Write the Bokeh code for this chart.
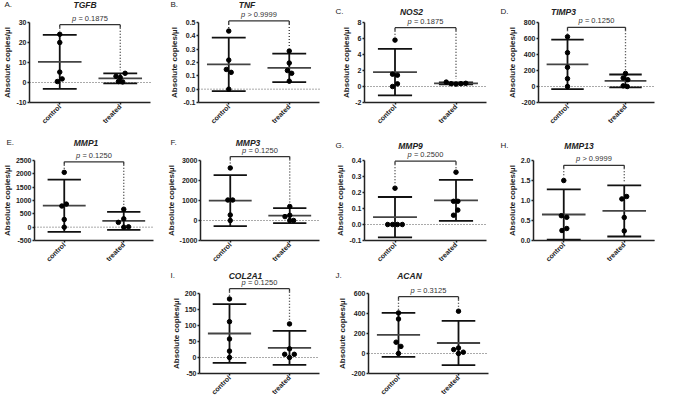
import math
from bokeh.plotting import figure
from bokeh.layouts import column, row
from bokeh.models import Range1d, FixedTicker, PrintfTickFormatter, Label, Spacer
from bokeh.embed import file_html
from bokeh.resources import INLINE

FONT = "Liberation Sans"

# ---------------- data ----------------
groups = ["control", "treated"]
letters = ["A.", "B.", "C.", "D.", "E.", "F.", "G.", "H.", "I.", "J."]
genes = ["TGFB", "TNF", "NOS2", "TIMP3", "MMP1", "MMP3", "MMP9", "MMP13", "COL2A1", "ACAN"]
p_relation = ["=", ">", "=", "=", "=", "=", "=", ">", "=", "="]
p_values = ["0.1875", "0.9999", "0.1875", "0.1250", "0.1250", "0.1250", "0.2500", "0.9999", "0.1250", "0.3125"]

y_ticks = [
    [-10, 0, 10, 20, 30],
    [-0.1, 0.0, 0.1, 0.2, 0.3, 0.4, 0.5],
    [-2, 0, 2, 4, 6, 8],
    [-200, 0, 200, 400, 600, 800],
    [-500, 0, 500, 1000, 1500, 2000, 2500],
    [-1000, 0, 1000, 2000, 3000],
    [-0.1, 0.0, 0.1, 0.2, 0.3, 0.4],
    [0.0, 0.5, 1.0, 1.5, 2.0],
    [-50, 0, 50, 100, 150, 200],
    [-200, 0, 200, 400, 600],
]
tick_formats = ["%d", "%.1f", "%d", "%d", "%d", "%d", "%.1f", "%.1f", "%d", "%d"]

control_vals = [
    [24.1, 20.0, 5.2, 1.8, 0.5],
    [0.436, 0.218, 0.148, 0.126, 0.0],
    [5.8, 1.54, 1.42, 0.33, 0.0],
    [622, 423, 240, 98, 0],
    [2055, 865, 793, 288, 0],
    [2626, 1024, 1024, 276, 0],
    [0.227, 0.0, 0.0, 0.0, 0.0],
    [1.5, 0.62, 0.58, 0.3, 0.25],
    [183, 112, 58, 20, 0],
    [406, 345, 113, 71, 0],
]
control_jitter = [
    [0.0, 0.0, 0.0, 0.04, -0.04],
    [0.0, 0.0, -0.04, 0.04, 0.0],
    [0.0, -0.04, 0.04, 0.04, -0.04],
    [0.0, 0.0, 0.0, 0.0, 0.0],
    [0.0, 0.035, -0.04, 0.0, 0.0],
    [0.0, -0.04, 0.04, 0.0, 0.0],
    [0.0, -0.12, -0.04, 0.04, 0.12],
    [0.0, -0.04, 0.05, 0.05, -0.03],
    [0.0, 0.0, 0.0, 0.0, 0.0],
    [0.0, 0.0, -0.04, 0.04, 0.0],
]
treated_vals = [
    [4.6, 3.1, 2.5, 0.5, 0.3],
    [0.286, 0.196, 0.14, 0.119, 0.06],
    [0.55, 0.35, 0.3, 0.35, 0.4],
    [163, 106, 85, 8, 0],
    [673, 312, 180, 12, 0],
    [700, 260, 195, 0, 0],
    [0.327, 0.145, 0.145, 0.09, 0.058],
    [1.04, 1.1, 0.576, 0.24],
    [105, 27, 10, 10, 0],
    [423, 55, 39, 13, 0],
]
treated_jitter = [
    [0.08, -0.07, 0.0, -0.03, 0.04],
    [0.0, 0.0, -0.03, 0.04, 0.0],
    [-0.16, -0.08, 0.0, 0.08, 0.16],
    [0.0, -0.04, 0.04, -0.04, 0.03],
    [0.0, 0.0, -0.09, 0.08, 0.0],
    [0.0, 0.0, -0.08, 0.065, 0.0],
    [0.0, -0.04, 0.03, 0.03, -0.04],
    [-0.04, 0.04, 0.0, 0.0],
    [0.0, 0.0, -0.08, 0.08, 0.0],
    [0.0, 0.0, -0.08, 0.08, 0.0],
]
control_mean = [10.3, 0.186, 1.8, 276, 805, 992, 0.046, 0.65, 75, 186]
control_sd = [13.5, 0.2, 2.9, 310, 980, 1275, 0.126, 0.63, 92, 220]
treated_mean = [2.1, 0.16, 0.39, 70, 235, 245, 0.151, 0.74, 30, 105]
treated_sd = [2.5, 0.107, 0.13, 80, 340, 375, 0.128, 0.64, 53, 221]
bracket_y = [28.9, 0.512, 7.35, 740, 2452, 3195, 0.396, 1.88, 215, 568]

# ---------------- layout settings ----------------
AXIS_PX = 80      # pixel height of the drawn y axis
TOP_PX = 22       # pixels from figure top to the top tick
FIG_W = 164
row_heights = [138, 133, 130]
axis_left = [29, 34, 36, 46, 34, 36, 36, 41, 35, 40]
space_right = [14, 9, 6, 2, 11, 9, 6, 2, 9, 4]
letter_x = [4, 6, 7, 8, 6, 6, 7, 8, 6, 7]
title_dy = [18, 18, 11, 11, 18, 18, 15, 15, 18, 18]
title_dx = [-5, -12, -14, -33, -8, -12, -15, -15, -14, -19]
MEAN_HW = 0.36
CAP_HW = 0.28
INK = "#222222"


def make_panel(i, height):
    ticks = y_ticks[i]
    lo, hi = ticks[0], ticks[-1]
    ppu = AXIS_PX / (hi - lo)
    bottom_px = height - TOP_PX - AXIS_PX
    y_start = lo - bottom_px / ppu
    y_end = hi + TOP_PX / ppu
    plot_w = FIG_W - axis_left[i] - space_right[i]
    ppx = plot_w / 2.0
    x_start = 0.5 - axis_left[i] / ppx
    x_end = 2.5 + space_right[i] / ppx
    p = figure(width=FIG_W, height=height,
               x_range=Range1d(x_start, x_end), y_range=Range1d(y_start, y_end),
               output_backend="svg", toolbar_location=None,
               min_border_left=0, min_border_right=0,
               min_border_top=0, min_border_bottom=0)
    p.xgrid.visible = False
    p.ygrid.visible = False
    p.outline_line_color = None
    p.background_fill_color = "white"
    p.border_fill_color = "white"

    for ax in (p.xaxis[0], p.yaxis[0]):
        ax.axis_line_color = INK
        ax.axis_line_width = 1.5
        ax.major_tick_line_color = INK
        ax.major_tick_line_width = 1.5
        ax.major_tick_in = 0
        ax.major_tick_out = 2
        ax.minor_tick_line_color = None
        ax.major_label_text_font = FONT
        ax.major_label_text_font_size = "7px"
        ax.major_label_text_font_style = "bold"
        ax.major_label_text_color = INK
        ax.major_label_standoff = 1

    p.xaxis.fixed_location = lo
    p.xaxis.ticker = FixedTicker(ticks=[1, 2])
    p.xaxis.major_label_overrides = {1: groups[0], 2: groups[1]}
    p.xaxis.major_label_orientation = math.pi / 4
    p.xaxis.bounds = (0.5, 2.5)

    p.yaxis.fixed_location = 0.5
    p.yaxis.ticker = FixedTicker(ticks=ticks)
    p.yaxis.formatter = PrintfTickFormatter(format=tick_formats[i])
    p.yaxis.bounds = (lo, hi)
    p.yaxis.axis_label = "Absolute copies/µl"
    p.yaxis.axis_label_text_font = FONT
    p.yaxis.axis_label_text_font_size = "8px"
    p.yaxis.axis_label_text_font_style = "bold"
    p.yaxis.axis_label_text_color = INK
    p.yaxis.axis_label_standoff = 1

    # zero reference line across the plotting area
    p.segment(x0=[0.5], y0=[0], x1=[2.5], y1=[0], line_color="#555555",
              line_width=1, line_dash="1 2")

    group_top = []
    for gx, vals, jit, m, s in ((1, control_vals[i], control_jitter[i], control_mean[i], control_sd[i]),
                                (2, treated_vals[i], treated_jitter[i], treated_mean[i], treated_sd[i])):
        p.segment(x0=[gx], y0=[m - s], x1=[gx], y1=[m + s], line_color="#111111", line_width=1.8)
        p.segment(x0=[gx - CAP_HW, gx - CAP_HW], y0=[m - s, m + s],
                  x1=[gx + CAP_HW, gx + CAP_HW], y1=[m - s, m + s],
                  line_color="#111111", line_width=1.8)
        p.segment(x0=[gx - MEAN_HW], y0=[m], x1=[gx + MEAN_HW], y1=[m],
                  line_color="#444444", line_width=1.8)
        p.scatter(x=[gx + j for j in jit], y=vals, size=4.5, color="black")
        group_top.append(max(max(vals), m + s))

    # significance bracket
    by = bracket_y[i]
    leg = 3 / ppu
    p.segment(x0=[1], y0=[by], x1=[2], y1=[by], line_color="#333333", line_width=1.3)
    p.segment(x0=[1, 2], y0=[by, by], x1=[1, 2], y1=[by - leg, by - leg],
              line_color="#333333", line_width=1.3)
    for gx, gt in zip((1, 2), group_top):
        end = gt + 3 / ppu
        if end < by - leg:
            p.segment(x0=[gx], y0=[by - leg], x1=[gx], y1=[end],
                      line_color="#333333", line_width=1.3, line_dash="1 2")

    p.add_layout(Label(x=1.5, y=by, x_offset=-17.9, y_offset=6.5, text="p",
                       text_font=FONT, text_font_size="7.5px", text_font_style="italic",
                       text_color="#333333", text_align="left", text_baseline="middle"))
    p.add_layout(Label(x=1.5, y=by, x_offset=-11.6, y_offset=6.5,
                       text=p_relation[i] + " " + p_values[i],
                       text_font=FONT, text_font_size="7.5px",
                       text_color="#333333", text_align="left", text_baseline="middle"))

    # panel letter and gene title
    p.add_layout(Label(x=x_start, y=hi, x_offset=letter_x[i], y_offset=title_dy[i],
                       text=letters[i], text_font=FONT, text_font_size="8px",
                       text_color=INK, text_align="left", text_baseline="middle"))
    p.add_layout(Label(x=1.5, y=hi, x_offset=title_dx[i], y_offset=title_dy[i],
                       text=genes[i], text_font=FONT, text_font_size="8.5px",
                       text_font_style="bold italic", text_color=INK,
                       text_align="center", text_baseline="middle"))
    return p


panels = []
for i in range(10):
    r = 0 if i < 4 else (1 if i < 8 else 2)
    panels.append(make_panel(i, row_heights[r]))

layout = column(
    row(*panels[0:4]),
    row(*panels[4:8]),
    row(Spacer(width=FIG_W, height=row_heights[2]), panels[8], panels[9]),
)

open("out.html", "w").write(file_html(layout, INLINE))
